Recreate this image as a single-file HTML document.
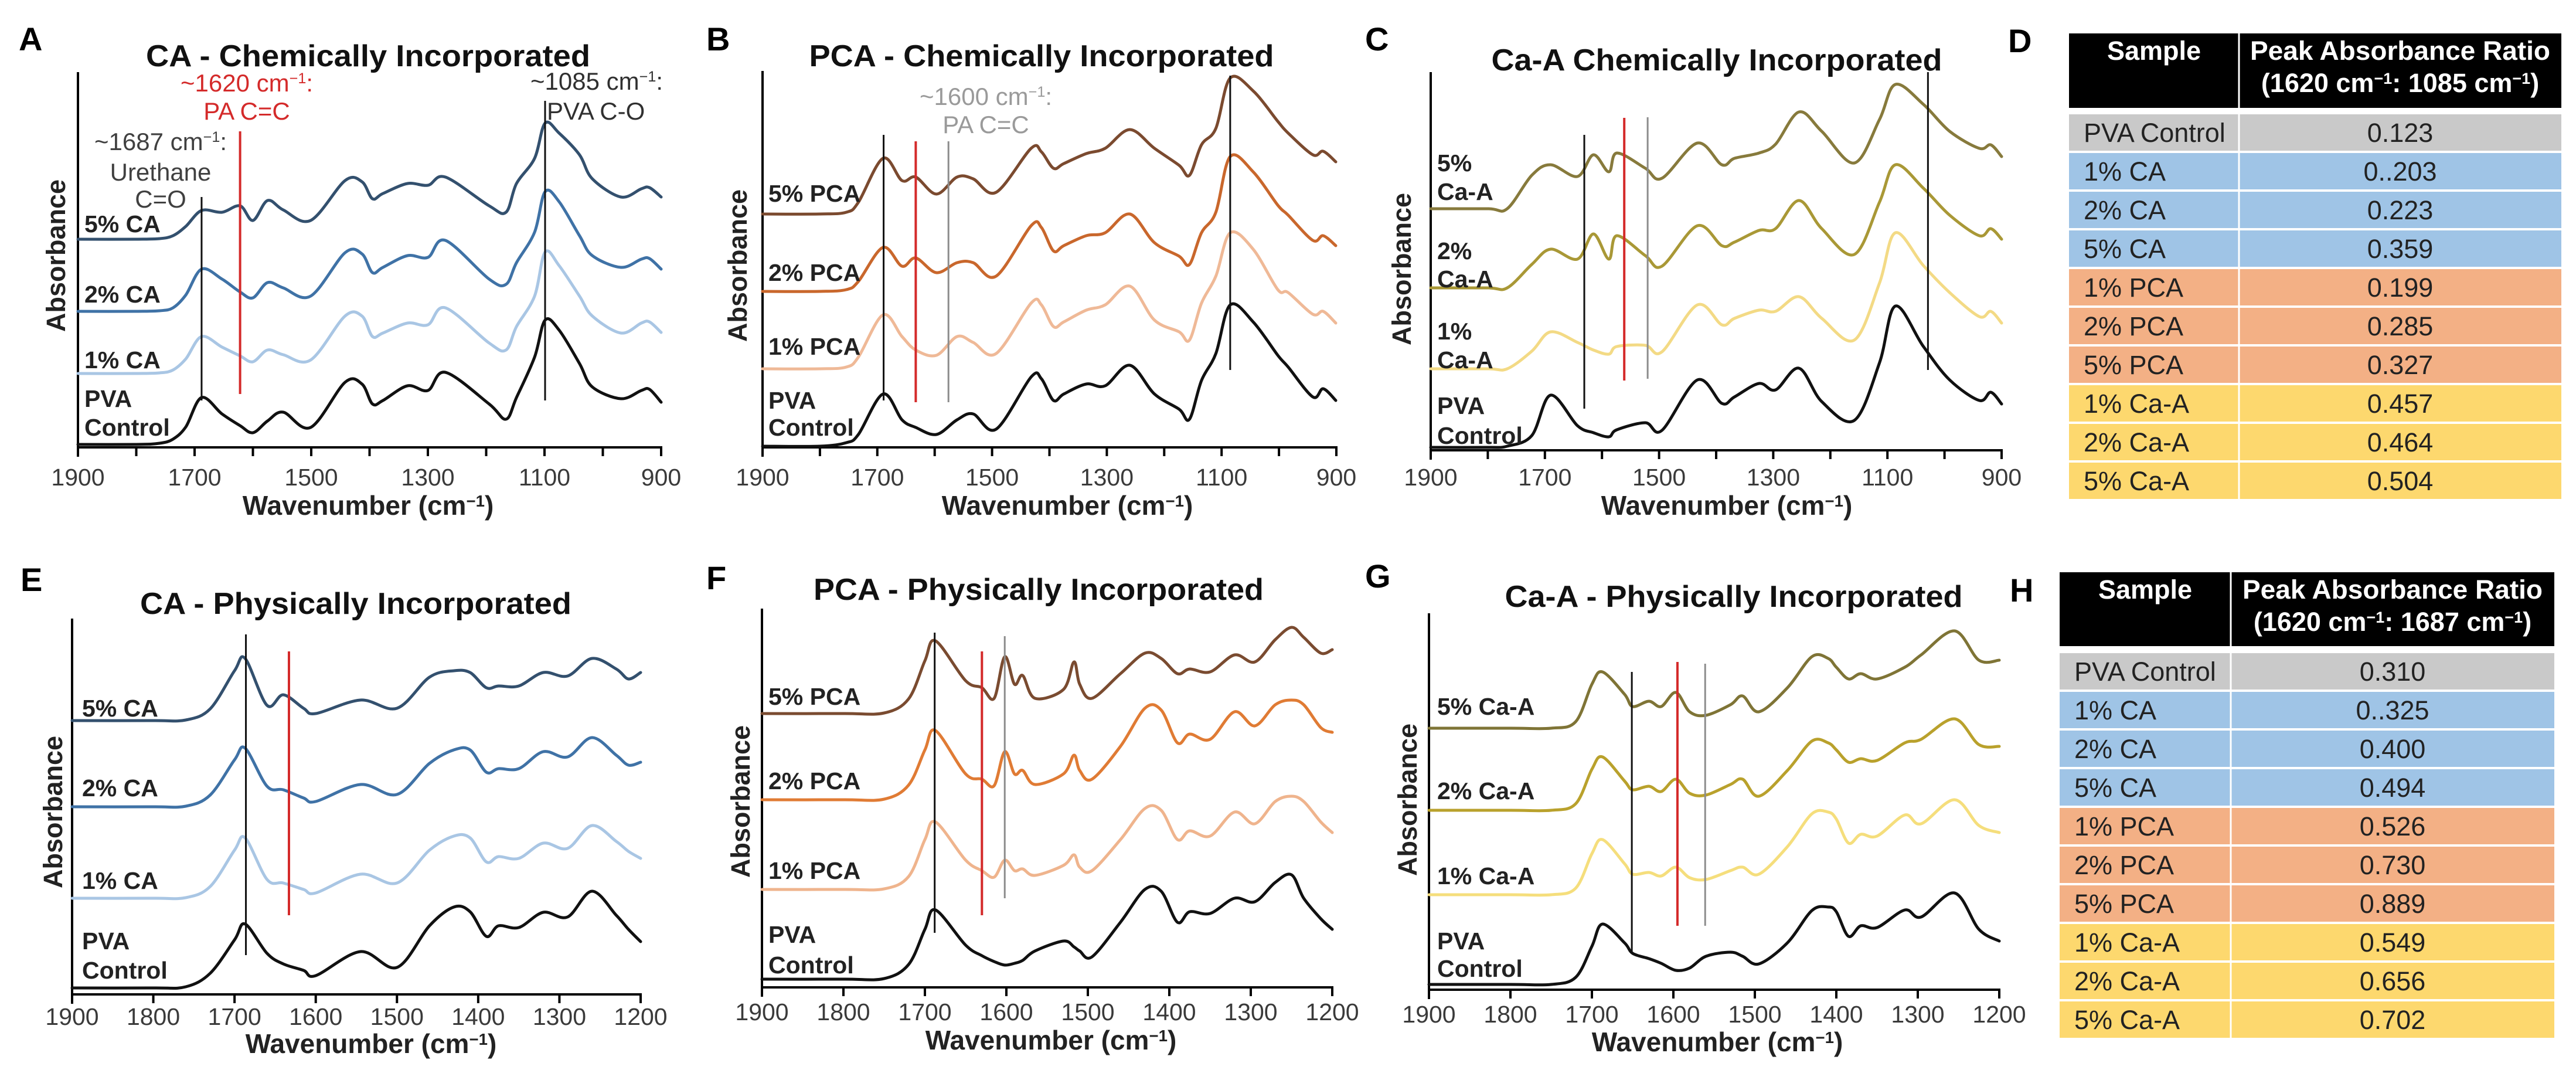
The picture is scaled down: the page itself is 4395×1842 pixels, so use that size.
<!DOCTYPE html>
<html><head><meta charset="utf-8"><title>FTIR spectra figure</title>
<style>
html,body{margin:0;padding:0;background:#fff;}
svg{display:block;font-family:"Liberation Sans",Arial,sans-serif;}
</style></head>
<body>
<svg id="fig" width="4395" height="1842" viewBox="0 0 4395 1842" xmlns="http://www.w3.org/2000/svg">
<rect x="0" y="0" width="4395" height="1842" fill="#fff"/>
</svg>
<script>
// ---------- DATA (peak heights above each trace's own baseline, arbitrary units) ----------
const aWavenumbers = [1900,1800,1760,1737,1715,1688,1653,1622,1600,1575,1548,1501,1442,1413,1395,1377,1335,1300,1270,1195,1166,1148,1117,1099,1075,1040,1018,969,934,920,900];
const aPva  = [0,0,2,9,30,80,52,32,20,40,55,29,106,103,69,75,100,92,123,69,43,80,149,212,195,138,98,78,92,94,72];
const a1CA  = [0,0,1,6,25,63,45,30,20,40,32,23,98,98,63,69,86,83,112,52,40,80,132,207,184,132,98,69,86,88,70];
const a2CA  = [0,0,1,6,28,72,55,33,23,49,40,26,100,98,66,75,95,92,121,55,46,83,135,204,187,129,95,75,89,90,72];
const a5CA  = [0,0,1,6,22,49,46,57,32,66,50,32,100,98,69,78,95,92,106,57,46,95,138,198,181,144,103,72,86,88,72];
const aOffsets = [5,126,232,355];

const bWavenumbers = [1900,1800,1754,1733,1690,1657,1633,1597,1561,1533,1493,1432,1414,1393,1375,1336,1303,1260,1217,1174,1156,1135,1110,1085,1045,1002,984,941,923,901];
const bPva  = [0,0,6,20,89,45,32,20,45,55,29,118,115,78,89,106,103,138,89,63,46,112,158,241,212,155,135,84,98,78];
const b1PCA = [0,0,3,20,92,55,32,23,55,45,26,112,109,72,80,100,109,141,83,63,49,112,158,232,204,135,130,93,98,78];
const b2PCA = [0,0,3,17,75,43,57,32,49,49,26,112,109,69,78,95,100,132,83,60,46,100,135,230,204,147,130,87,95,78];
const b5PCA = [0,0,3,20,95,57,63,34,63,60,37,112,106,78,86,103,112,144,112,83,66,118,146,232,210,158,138,101,107,89];
const bOffsets = [2,134,266,398];

const cWavenumbers = [1900,1800,1766,1723,1690,1643,1615,1588,1574,1524,1495,1433,1390,1368,1325,1296,1255,1215,1158,1114,1086,1037,991,939,919,900];
const cPva  = [0,0,2,20,89,37,25,18,30,42,29,115,75,86,109,98,135,78,46,144,241,172,115,80,94,74];
const c1CaA = [0,0,0,30,63,45,32,25,38,40,29,109,75,86,100,98,123,86,49,146,232,176,130,89,98,78];
const c2CaA = [0,0,0,40,66,49,92,49,89,55,37,106,72,78,98,101,149,101,57,146,210,170,124,89,101,83];
const c5CaA = [0,0,0,57,75,55,92,63,95,69,52,112,75,86,95,110,165,132,78,152,212,178,132,103,109,89];
const cOffsets = [5,139,277,412];

const eWavenumbers = [1900,1800,1760,1730,1700,1687,1660,1640,1615,1600,1545,1500,1460,1430,1410,1390,1375,1350,1320,1290,1260,1230,1215,1200];
const ePva  = [0,0,2,25,82,109,59,41,30,21,62,35,106,138,130,88,106,103,129,121,165,124,100,79];
const e1CA  = [0,0,1,20,82,103,32,26,15,9,41,26,82,106,103,62,71,68,94,85,124,97,80,68];
const e2CA  = [0,0,1,20,80,100,35,29,15,9,38,21,74,97,97,59,65,65,94,85,118,88,71,76];
const e5CA  = [0,0,1,20,85,106,26,44,21,12,35,21,74,85,82,56,59,59,82,76,106,88,71,82];
const eOffsets = [11,164,320,467];

const fWavenumbers = [1900,1800,1750,1720,1700,1687,1650,1630,1615,1602,1590,1580,1565,1530,1517,1510,1495,1460,1430,1410,1390,1375,1350,1320,1295,1270,1250,1235,1214,1200];
const fPva  = [0,0,1,25,85,118,58,40,30,24,27,32,48,65,55,48,38,97,153,150,97,115,112,138,132,165,178,138,103,85];
const f1PCA = [0,0,1,22,85,115,50,32,21,50,32,35,24,41,59,38,32,85,138,135,85,100,91,132,112,150,159,150,115,97];
const f2PCA = [0,0,1,25,85,118,44,35,24,82,44,50,26,44,76,50,35,91,156,153,97,112,103,150,126,162,170,162,123,115];
const f5PCA = [0,0,1,25,90,124,56,44,26,97,50,65,26,41,88,50,26,68,103,94,68,76,71,100,88,126,147,130,103,109];
const fOffsets = [14,167,320,467];

const gWavenumbers = [1900,1800,1750,1720,1700,1687,1660,1650,1630,1615,1597,1580,1560,1530,1515,1495,1460,1430,1410,1400,1385,1370,1350,1316,1296,1255,1225,1200];
const gPva  = [0,0,0,12,65,103,71,53,44,36,24,28,48,55,48,35,71,126,132,124,82,100,97,127,115,156,94,74];
const g1CaA = [0,0,0,11,70,94,53,35,38,32,47,29,26,41,47,35,82,138,141,129,88,103,100,136,121,162,118,106];
const g2CaA = [0,0,0,11,70,91,50,35,41,32,53,29,26,44,53,24,68,118,115,103,82,88,85,115,121,156,112,109];
const g5CaA = [0,0,0,11,75,96,58,37,46,37,61,28,22,40,55,28,69,122,119,104,84,93,84,104,125,166,116,116];
const gOffsets = [9,162,306,446];

const topTickLabels = [1900,1700,1500,1300,1100,900];
const bottomTickLabels = [1900,1800,1700,1600,1500,1400,1300,1200];

const tableSamples = ["PVA Control","1% CA","2% CA","5% CA","1% PCA","2% PCA","5% PCA","1% Ca-A","2% Ca-A","5% Ca-A"];
const dRatios = ["0.123","0..203","0.223","0.359","0.199","0.285","0.327","0.457","0.464","0.504"];
const hRatios = ["0.310","0..325","0.400","0.494","0.526","0.730","0.889","0.549","0.656","0.702"];

// ---------- RENDERING ----------
const NS = "http://www.w3.org/2000/svg";
const svg = document.getElementById('fig');
function mk(tag, attrs, parent){
  const n = document.createElementNS(NS, tag);
  for (const k in attrs) n.setAttribute(k, attrs[k]);
  (parent || svg).appendChild(n);
  return n;
}
function splinePath(pts){
  let d = "M" + pts[0][0].toFixed(1) + "," + pts[0][1].toFixed(1);
  for (let i = 0; i < pts.length - 1; i++){
    const p0 = pts[i-1] || pts[i], p1 = pts[i], p2 = pts[i+1], p3 = pts[i+2] || p2;
    const c1x = p1[0] + (p2[0]-p0[0])/6, c1y = p1[1] + (p2[1]-p0[1])/6;
    const c2x = p2[0] - (p3[0]-p1[0])/6, c2y = p2[1] - (p3[1]-p1[1])/6;
    d += " C" + c1x.toFixed(1)+","+c1y.toFixed(1)+" "+c2x.toFixed(1)+","+c2y.toFixed(1)+" "+p2[0].toFixed(1)+","+p2[1].toFixed(1);
  }
  return d;
}
function textWithSup(parent, parts){
  // parts: array of [text, isSup]
  parts.forEach(p => {
    const t = mk('tspan', p[1] ? {dy:-14, 'font-size':'0.6em'} : {dy: p[2] || 0}, parent);
    t.textContent = p[0];
  });
}

function drawPanel(cfg){
  const g = mk('g', {});
  
  
  const xs = w => cfg.x0 + (cfg.wMax - w) / (cfg.wMax - cfg.wMin) * (cfg.x1 - cfg.x0);
  const ys = v => cfg.axisY - v;

  // letter
  const L = mk('text', {x: cfg.letter[0], y: cfg.letter[1], 'font-size': 56, 'font-weight': 'bold', fill: '#000'}, g);
  L.textContent = cfg.letterText;
  
  

  // title
  const T = mk('text', {x: cfg.title[0], y: cfg.title[1], 'font-size': 52, 'font-weight': 'bold', 'text-anchor': 'middle', fill: '#111', textLength: cfg.title[2], lengthAdjust: 'spacingAndGlyphs'}, g);
  T.textContent = cfg.titleText;
  
  

  // axes
  const ya = mk('line', {x1: cfg.x0, y1: cfg.topY, x2: cfg.x0, y2: cfg.axisY + 16, stroke: '#000', 'stroke-width': 4}, g);
  
  
  const xa = mk('line', {x1: cfg.x0 - 2, y1: cfg.axisY, x2: cfg.x1 + 2, y2: cfg.axisY, stroke: '#000', 'stroke-width': 4}, g);
  
  
  for (let w = cfg.wMax - 100; w >= cfg.wMin; w -= 100){
    const tk = mk('line', {x1: xs(w), y1: cfg.axisY, x2: xs(w), y2: cfg.axisY + 15, stroke: '#000', 'stroke-width': 4}, g);
    
    
  }
  cfg.tickLabels.forEach(w => {
    const tl = mk('text', {x: xs(w), y: cfg.tickLabelY, 'font-size': 41, 'text-anchor': 'middle', fill: '#3a3a3a'}, g);
    tl.textContent = String(w);
    
    
  });
  // x-axis title
  const xt = mk('text', {x: cfg.xTitle[0], y: cfg.xTitle[1], 'font-size': 46, 'font-weight': 'bold', 'text-anchor': 'middle', fill: '#222'}, g);
  textWithSup(xt, [['Wavenumber (cm', false], ['\u22121', true], [')', false, 14]]);
  
  
  // y-axis title
  const yt = mk('text', {x: 0, y: 0, 'font-size': 45, 'font-weight': 'bold', 'text-anchor': 'middle', fill: '#222', transform: 'translate(' + (cfg.yTitle[0] + 16) + ',' + cfg.yTitle[1] + ') rotate(-90)'}, g);
  yt.textContent = 'Absorbance';
  
  

  // marker lines (behind spectra? drawn after spectra in original - draw after)
  // spectra
  cfg.series.forEach(s => {
    const pts = cfg.wn.map((w, i) => [xs(w), ys(s.offset + s.vals[i])]);
    const p = mk('path', {d: splinePath(pts), fill: 'none', stroke: s.color, 'stroke-width': 5, 'stroke-linejoin': 'round', 'stroke-linecap': 'round'}, g);
    
    
  });
  cfg.markers.forEach(m => {
    const ln = mk('line', {x1: xs(m[0]), y1: m[1], x2: xs(m[0]), y2: m[2], stroke: m[3], 'stroke-width': m[4]}, g);
    
    
  });
  // series labels
  cfg.labels.forEach(lb => {
    const t = mk('text', {x: lb[0], y: lb[1], 'font-size': 41, 'font-weight': 'bold', fill: '#222'}, g);
    t.textContent = lb[2];
    
    
  });
  // annotations
  (cfg.notes || []).forEach(n => {
    const t = mk('text', {x: n[0], y: n[1], 'font-size': 42, fill: n[3], 'text-anchor': n[4] || 'middle'}, g);
    if (n[2].indexOf('|') >= 0){
      const parts = n[2].split('|');
      textWithSup(t, [[parts[0], false], ['\u22121', true], [parts[1], false, 14]]);
    } else {
      t.textContent = n[2];
    }
    
    
  });
}

const blue = ['#111111', '#a9c6e4', '#3f72a6', '#33506e'];
const orangeChem = ['#111111', '#efb997', '#c9672c', '#7b4a2f'];
const oliveChem = ['#111111', '#f3da85', '#a99836', '#877a3c'];
const orangePhys = ['#111111', '#efb48d', '#e07b34', '#7a4b30'];
const olivePhys = ['#111111', '#f5de7c', '#b9a12c', '#7f7436'];
const RED = '#d42a2a', GRAY = '#8c8c8c', BLK = '#111';

function mkSeries(prefix, names, arrays, offsets, colors){
  return arrays.map((a, i) => ({name: prefix + '-' + names[i], vals: a, offset: offsets[i], color: colors[i]}));
}

drawPanel({id:'a', letterText:'A', letter:[32,86], titleText:'CA - Chemically Incorporated', title:[628,113,758],
  x0:133, x1:1128, axisY:763, topY:123, wMax:1900, wMin:900, wn:aWavenumbers, tickLabels:topTickLabels, tickLabelY:828,
  xTitle:[628,878], yTitle:[95,436],
  series: mkSeries('a', ['pva-control-line','1pct-ca-line','2pct-ca-line','5pct-ca-line'], [aPva,a1CA,a2CA,a5CA], aOffsets, blue),
  markers:[[1688,336,683,BLK,3,'urethane-marker'],[1622,224,672,RED,4,'pa-cc-marker'],[1099,172,683,BLK,3,'pva-co-marker']],
  labels:[[144,396,'5% CA'],[144,516,'2% CA'],[144,628,'1% CA'],[144,694,'PVA'],[144,743,'Control']],
  notes:[[274,256,'~1687 cm|:','#404040'],[274,308,'Urethane','#404040'],[274,354,'C=O','#404040'],
         [421,156,'~1620 cm|:',RED],[421,204,'PA C=C',RED],[905,153,'~1085 cm|:','#303030','start'],[933,204,'PVA C-O','#303030','start']]
});
drawPanel({id:'b', letterText:'B', letter:[1205,86], titleText:'PCA - Chemically Incorporated', title:[1777,113,793],
  x0:1301, x1:2280, axisY:763, topY:121, wMax:1900, wMin:900, wn:bWavenumbers, tickLabels:topTickLabels, tickLabelY:828,
  xTitle:[1821,878], yTitle:[1258,453],
  series: mkSeries('b', ['pva-control-line','1pct-pca-line','2pct-pca-line','5pct-pca-line'], [bPva,b1PCA,b2PCA,b5PCA], bOffsets, orangeChem),
  markers:[[1689,230,683,BLK,3,'urethane-marker'],[1633,241,686,RED,4,'pa-cc-marker'],[1576,241,686,GRAY,3,'pa-1600-marker'],[1085,129,631,BLK,3,'pva-co-marker']],
  labels:[[1311,344,'5% PCA'],[1311,479,'2% PCA'],[1311,605,'1% PCA'],[1311,697,'PVA'],[1311,743,'Control']],
  notes:[[1682,179,'~1600 cm|:','#9a9a9a'],[1682,227,'PA C=C','#9a9a9a']]
});
drawPanel({id:'c', letterText:'C', letter:[2329,86], titleText:'Ca-A Chemically Incorporated', title:[2929,120,769],
  x0:2441, x1:3415, axisY:768, topY:123, wMax:1900, wMin:900, wn:cWavenumbers, tickLabels:topTickLabels, tickLabelY:828,
  xTitle:[2946,878], yTitle:[2391,459],
  series: mkSeries('c', ['pva-control-line','1pct-caa-line','2pct-caa-line','5pct-caa-line'], [cPva,c1CaA,c2CaA,c5CaA], cOffsets, oliveChem),
  markers:[[1631,230,697,BLK,3,'urethane-marker'],[1561,201,649,RED,4,'pa-cc-marker'],[1520,200,646,GRAY,3,'pa-1600-marker'],[1029,123,631,BLK,3,'pva-co-marker']],
  labels:[[2452,292,'5%'],[2452,341,'Ca-A'],[2452,442,'2%'],[2452,490,'Ca-A'],[2452,579,'1%'],[2452,628,'Ca-A'],[2452,706,'PVA'],[2452,757,'Control']]
});
drawPanel({id:'e', letterText:'E', letter:[35,1008], titleText:'CA - Physically Incorporated', title:[607,1047,736],
  x0:123, x1:1093, axisY:1696, topY:1055, wMax:1900, wMin:1200, wn:eWavenumbers, tickLabels:bottomTickLabels, tickLabelY:1748,
  xTitle:[633,1796], yTitle:[90,1385],
  series: mkSeries('e', ['pva-control-line','1pct-ca-line','2pct-ca-line','5pct-ca-line'], [ePva,e1CA,e2CA,e5CA], eOffsets, blue),
  markers:[[1686,1082,1629,BLK,3,'urethane-marker'],[1633,1111,1561,RED,4,'pa-cc-marker']],
  labels:[[140,1222,'5% CA'],[140,1358,'2% CA'],[140,1516,'1% CA'],[140,1619,'PVA'],[140,1669,'Control']]
});
drawPanel({id:'f', letterText:'F', letter:[1205,1005], titleText:'PCA - Physically Incorporated', title:[1772,1023,768],
  x0:1300, x1:2273, axisY:1684, topY:1038, wMax:1900, wMin:1200, wn:fWavenumbers, tickLabels:bottomTickLabels, tickLabelY:1740,
  xTitle:[1793,1790], yTitle:[1263,1367],
  series: mkSeries('f', ['pva-control-line','1pct-pca-line','2pct-pca-line','5pct-pca-line'], [fPva,f1PCA,f2PCA,f5PCA], fOffsets, orangePhys),
  markers:[[1688,1079,1591,BLK,3,'urethane-marker'],[1630,1111,1561,RED,4,'pa-cc-marker'],[1602,1085,1532,GRAY,3,'pa-1600-marker']],
  labels:[[1311,1202,'5% PCA'],[1311,1346,'2% PCA'],[1311,1499,'1% PCA'],[1311,1608,'PVA'],[1311,1660,'Control']]
});
drawPanel({id:'g', letterText:'G', letter:[2329,1002], titleText:'Ca-A - Physically Incorporated', title:[2958,1035,781],
  x0:2438, x1:3411, axisY:1688, topY:1046, wMax:1900, wMin:1200, wn:gWavenumbers, tickLabels:bottomTickLabels, tickLabelY:1744,
  xTitle:[2930,1793], yTitle:[2401,1364],
  series: mkSeries('g', ['pva-control-line','1pct-caa-line','2pct-caa-line','5pct-caa-line'], [gPva,g1CaA,g2CaA,g5CaA], gOffsets, olivePhys),
  markers:[[1651,1146,1623,BLK,3,'urethane-marker'],[1595,1129,1579,RED,4,'pa-cc-marker'],[1561,1132,1579,GRAY,3,'pa-1600-marker']],
  labels:[[2452,1219,'5% Ca-A'],[2452,1363,'2% Ca-A'],[2452,1508,'1% Ca-A'],[2452,1619,'PVA'],[2452,1666,'Control']]
});

// ---------- TABLES ----------
const rowColors = ['#c9c9c9','#9fc4e6','#9fc4e6','#9fc4e6','#f3b085','#f3b085','#f3b085','#fdd86e','#fdd86e','#fdd86e'];
function drawTable(cfg, ratios){
  const g = mk('g', {});
  
  
  const L = mk('text', {x: cfg.letter[0], y: cfg.letter[1], 'font-size': 56, 'font-weight': 'bold', fill: '#000'}, g);
  L.textContent = cfg.letterText;
  
  
  const hdr = mk('rect', {x: cfg.left, y: cfg.top, width: cfg.right - cfg.left, height: cfg.headH, fill: '#000'}, g);
  
  
  const h1 = mk('text', {x: (cfg.left + cfg.div) / 2, y: cfg.top + 45, 'font-size': 45, 'font-weight': 'bold', fill: '#fff', 'text-anchor': 'middle'}, g);
  h1.textContent = 'Sample';
  
  
  const cx2 = (cfg.div + cfg.right) / 2;
  const h2 = mk('text', {x: cx2, y: cfg.top + 45, 'font-size': 45, 'font-weight': 'bold', fill: '#fff', 'text-anchor': 'middle', textLength: 512, lengthAdjust: 'spacingAndGlyphs'}, g);
  h2.textContent = 'Peak Absorbance Ratio';
  
  
  const h3 = mk('text', {x: cx2, y: cfg.top + 100, 'font-size': 45, 'font-weight': 'bold', fill: '#fff', 'text-anchor': 'middle'}, g);
  textWithSup(h3, [['(1620 cm', false], ['\u22121', true], [': ' + cfg.ref + ' cm', false, 14], ['\u22121', true], [')', false, 14]]);
  
  
  const dv = mk('line', {x1: cfg.div, y1: cfg.top, x2: cfg.div, y2: cfg.top + cfg.headH, stroke: '#fff', 'stroke-width': 3}, g);
  
  
  tableSamples.forEach((s, i) => {
    const y = cfg.rowTop + i * cfg.rowH;
    const r = mk('rect', {x: cfg.left, y: y, width: cfg.right - cfg.left, height: cfg.rowH - 4, fill: rowColors[i]}, g);
    
    
    const d = mk('line', {x1: cfg.div, y1: y, x2: cfg.div, y2: y + cfg.rowH - 4, stroke: '#fff', 'stroke-width': 3}, g);
    
    
    const t1 = mk('text', {x: cfg.left + 25, y: y + 47, 'font-size': 45, fill: '#222'}, g);
    t1.textContent = s;
    
    
    const t2 = mk('text', {x: cx2, y: y + 47, 'font-size': 45, fill: '#222', 'text-anchor': 'middle'}, g);
    t2.textContent = ratios[i];
    
    
  });
}
drawTable({id:'d', letterText:'D', letter:[3426,89], left:3530, div:3820, right:4370, top:57, headH:127, rowTop:195, rowH:66, ref:'1085'}, dRatios);
drawTable({id:'h', letterText:'H', letter:[3429,1026], left:3514, div:3806, right:4358, top:976, headH:126, rowTop:1114, rowH:66, ref:'1687'}, hRatios);
</script>
</body></html>
